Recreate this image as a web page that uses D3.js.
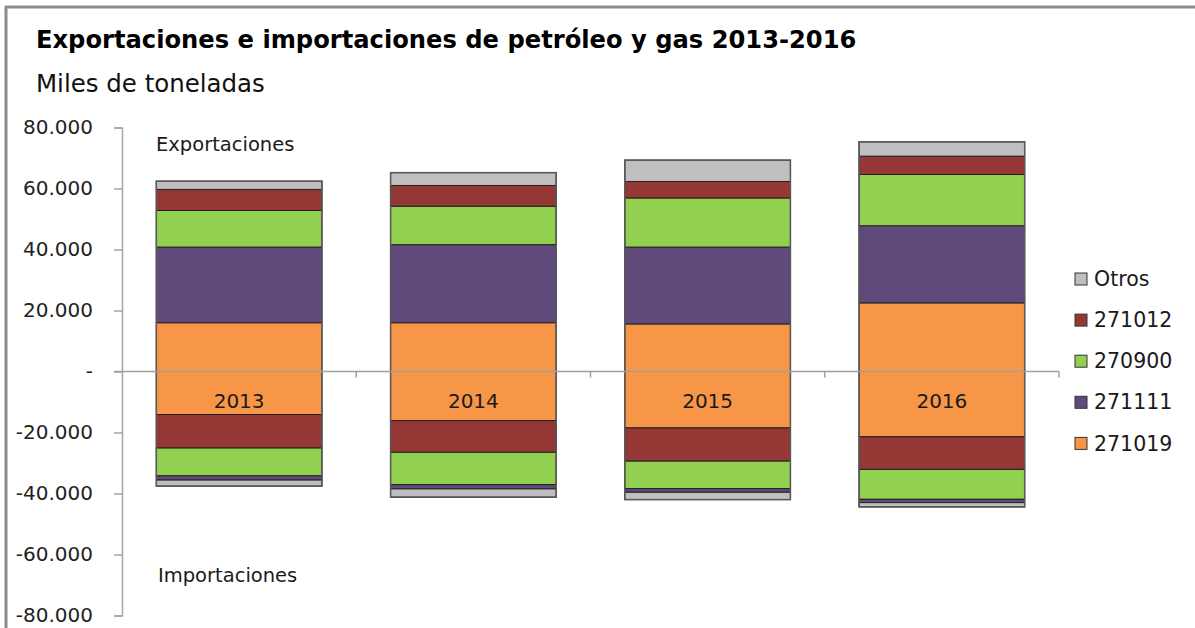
<!DOCTYPE html>
<html>
<head>
<meta charset="utf-8">
<script src="https://cdn.jsdelivr.net/npm/d3@7/dist/d3.min.js"></script>
<style>
  body { margin: 0; background: #fff; }
  svg { display: block; font-family: "DejaVu Sans", Verdana, sans-serif; }
</style>
</head>
<body>
<div id="chart"></div>
<script>
// data (miles de toneladas)
const years = ["2013", "2014", "2015", "2016"];
const seriesNames = ["Otros", "271012", "270900", "271111", "271019"]; // legend order

// exportaciones
const exp271019 = [16000, 16000, 15600, 22500];
const exp271111 = [24800, 25600, 25200, 25300];
const exp270900 = [12000, 12600, 16100, 16800];
const exp271012 = [6900, 6800, 5400, 6000];
const expOtros  = [2700, 4200, 7000, 4700];

// importaciones
const imp271019 = [14100, 16100, 18500, 21400];
const imp271012 = [11000, 10400, 10900, 10700];
const imp270900 = [9100, 10600, 9000, 9800];
const imp271111 = [1400, 1400, 1200, 1100];
const impOtros  = [2000, 2700, 2400, 1400];

const yTicks = [-80000, -60000, -40000, -20000, 0, 20000, 40000, 60000, 80000];

const colors = {
  "271019": "#F79646",
  "271111": "#604A7B",
  "270900": "#92D050",
  "271012": "#953735",
  "Otros":  "#BFBFBF"
};

const width = 1195, height = 628;

const svg = d3.select("#chart").append("svg")
  .attr("width", width)
  .attr("height", height);

// frame
svg.append("line").attr("x1", 5).attr("x2", width).attr("y1", 7).attr("y2", 7)
  .attr("stroke", "#8c8c8c").attr("stroke-width", 3);
svg.append("line").attr("x1", 6).attr("x2", 6).attr("y1", 6).attr("y2", height)
  .attr("stroke", "#8c8c8c").attr("stroke-width", 3);

// title + subtitle, fitted to the reference widths
const title = svg.append("text")
  .attr("x", 36).attr("y", 48)
  .attr("font-weight", "bold").attr("font-size", 22).attr("fill", "#000")
  .text("Exportaciones e importaciones de petróleo y gas 2013-2016");
title.attr("font-size", 22 * 821 / title.node().getComputedTextLength());

const sub = svg.append("text")
  .attr("x", 36).attr("y", 92)
  .attr("font-size", 20).attr("fill", "#111")
  .text("Miles de toneladas");
sub.attr("font-size", 20 * 229 / sub.node().getComputedTextLength());

// scales
const x = d3.scaleBand()
  .domain(years)
  .range([122, 1059])
  .paddingInner(0.293)
  .paddingOuter(0.1465);

const y = d3.scaleLinear()
  .domain([-80000, 80000])
  .range([615.5, 127.5]);

// table for stacking
const table = years.map((yr, i) => ({
  year: yr,
  exp: { "271019": exp271019[i], "271111": exp271111[i], "270900": exp270900[i], "271012": exp271012[i], "Otros": expOtros[i] },
  imp: { "271019": -imp271019[i], "271012": -imp271012[i], "270900": -imp270900[i], "271111": -imp271111[i], "Otros": -impOtros[i] }
}));

const expStack = d3.stack()
  .keys(["271019", "271111", "270900", "271012", "Otros"])
  .value((d, k) => d.exp[k])(table);

const impStack = d3.stack()
  .keys(["271019", "271012", "270900", "271111", "Otros"])
  .offset(d3.stackOffsetDiverging)
  .value((d, k) => d.imp[k])(table);

const gBars = svg.append("g").attr("class", "bars");

[expStack, impStack].forEach(stack => {
  gBars.append("g").selectAll("g")
    .data(stack)
    .join("g")
      .attr("fill", d => colors[d.key])
    .selectAll("rect")
    .data(d => d)
    .join("rect")
      .attr("x", d => x(d.data.year))
      .attr("width", x.bandwidth())
      .attr("y", d => y(Math.max(d[0], d[1])))
      .attr("height", d => Math.abs(y(d[0]) - y(d[1])))
      .attr("stroke", "#222")
      .attr("stroke-width", 1);
});

// outer outline of each bar
const expTop = expStack[expStack.length - 1];
const impBot = impStack[impStack.length - 1];
gBars.append("g").selectAll("rect")
  .data(years.map((yr, i) => ({ year: yr, top: expTop[i][1], bot: impBot[i][0] })))
  .join("rect")
    .attr("x", d => x(d.year))
    .attr("width", x.bandwidth())
    .attr("y", d => y(d.top))
    .attr("height", d => y(d.bot) - y(d.top))
    .attr("fill", "none")
    .attr("stroke", "#5a5a5a")
    .attr("stroke-width", 1.5);

// y axis
const loc = d3.formatLocale({ decimal: ",", thousands: ".", grouping: [3], currency: ["", ""], minus: "-" });
const fmt = loc.format(",.0f");

const yAxis = svg.append("g")
  .attr("transform", "translate(122,0)")
  .call(d3.axisLeft(y)
    .tickValues(yTicks)
    .tickSize(8)
    .tickPadding(21)
    .tickFormat(d => d === 0 ? "-" : fmt(d)));
yAxis.select(".domain").attr("stroke", "#a6a6a6").attr("stroke-width", 1.5);
yAxis.selectAll(".tick line").attr("stroke", "#a6a6a6").attr("stroke-width", 1.5);
yAxis.selectAll(".tick text")
  .attr("font-family", "'DejaVu Sans', Verdana, sans-serif")
  .attr("font-size", 20)
  .attr("fill", "#222");

// x axis line at zero, with category boundary ticks
const gx = svg.append("g");
gx.append("line")
  .attr("x1", 114).attr("x2", x.range()[1])
  .attr("y1", y(0)).attr("y2", y(0))
  .attr("stroke", "#a0a0a0").attr("stroke-width", 1.5);
gx.selectAll(".bt")
  .data(years)
  .join("line")
    .attr("class", "bt")
    .attr("x1", d => x(d) + x.bandwidth() + x.step() * x.paddingInner() / 2)
    .attr("x2", d => x(d) + x.bandwidth() + x.step() * x.paddingInner() / 2)
    .attr("y1", y(0)).attr("y2", y(0) + 6)
    .attr("stroke", "#a0a0a0").attr("stroke-width", 1.5);

// year labels inside bars
svg.append("g").selectAll("text")
  .data(years)
  .join("text")
    .attr("x", d => x(d) + x.bandwidth() / 2)
    .attr("y", y(0) + 36)
    .attr("text-anchor", "middle")
    .attr("font-size", 20)
    .attr("fill", "#1a1a1a")
    .text(d => d);

// annotations
svg.append("text")
  .attr("x", 156).attr("y", 151)
  .attr("font-size", 19.5).attr("fill", "#1a1a1a")
  .text("Exportaciones");
svg.append("text")
  .attr("x", 158).attr("y", 582)
  .attr("font-size", 19.5).attr("fill", "#1a1a1a")
  .text("Importaciones");

// legend
const legend = svg.append("g").attr("transform", "translate(1075,279)");
const item = legend.selectAll("g")
  .data(seriesNames)
  .join("g")
    .attr("transform", (d, i) => `translate(0,${i * 41.1})`);
item.append("rect")
  .attr("x", 0).attr("y", -6)
  .attr("width", 12).attr("height", 12)
  .attr("fill", d => colors[d])
  .attr("stroke", "#333").attr("stroke-width", 1);
item.append("text")
  .attr("x", 19).attr("y", 0)
  .attr("dy", "0.35em")
  .attr("font-size", 20.5)
  .attr("fill", "#1a1a1a")
  .text(d => d);
</script>
</body>
</html>
